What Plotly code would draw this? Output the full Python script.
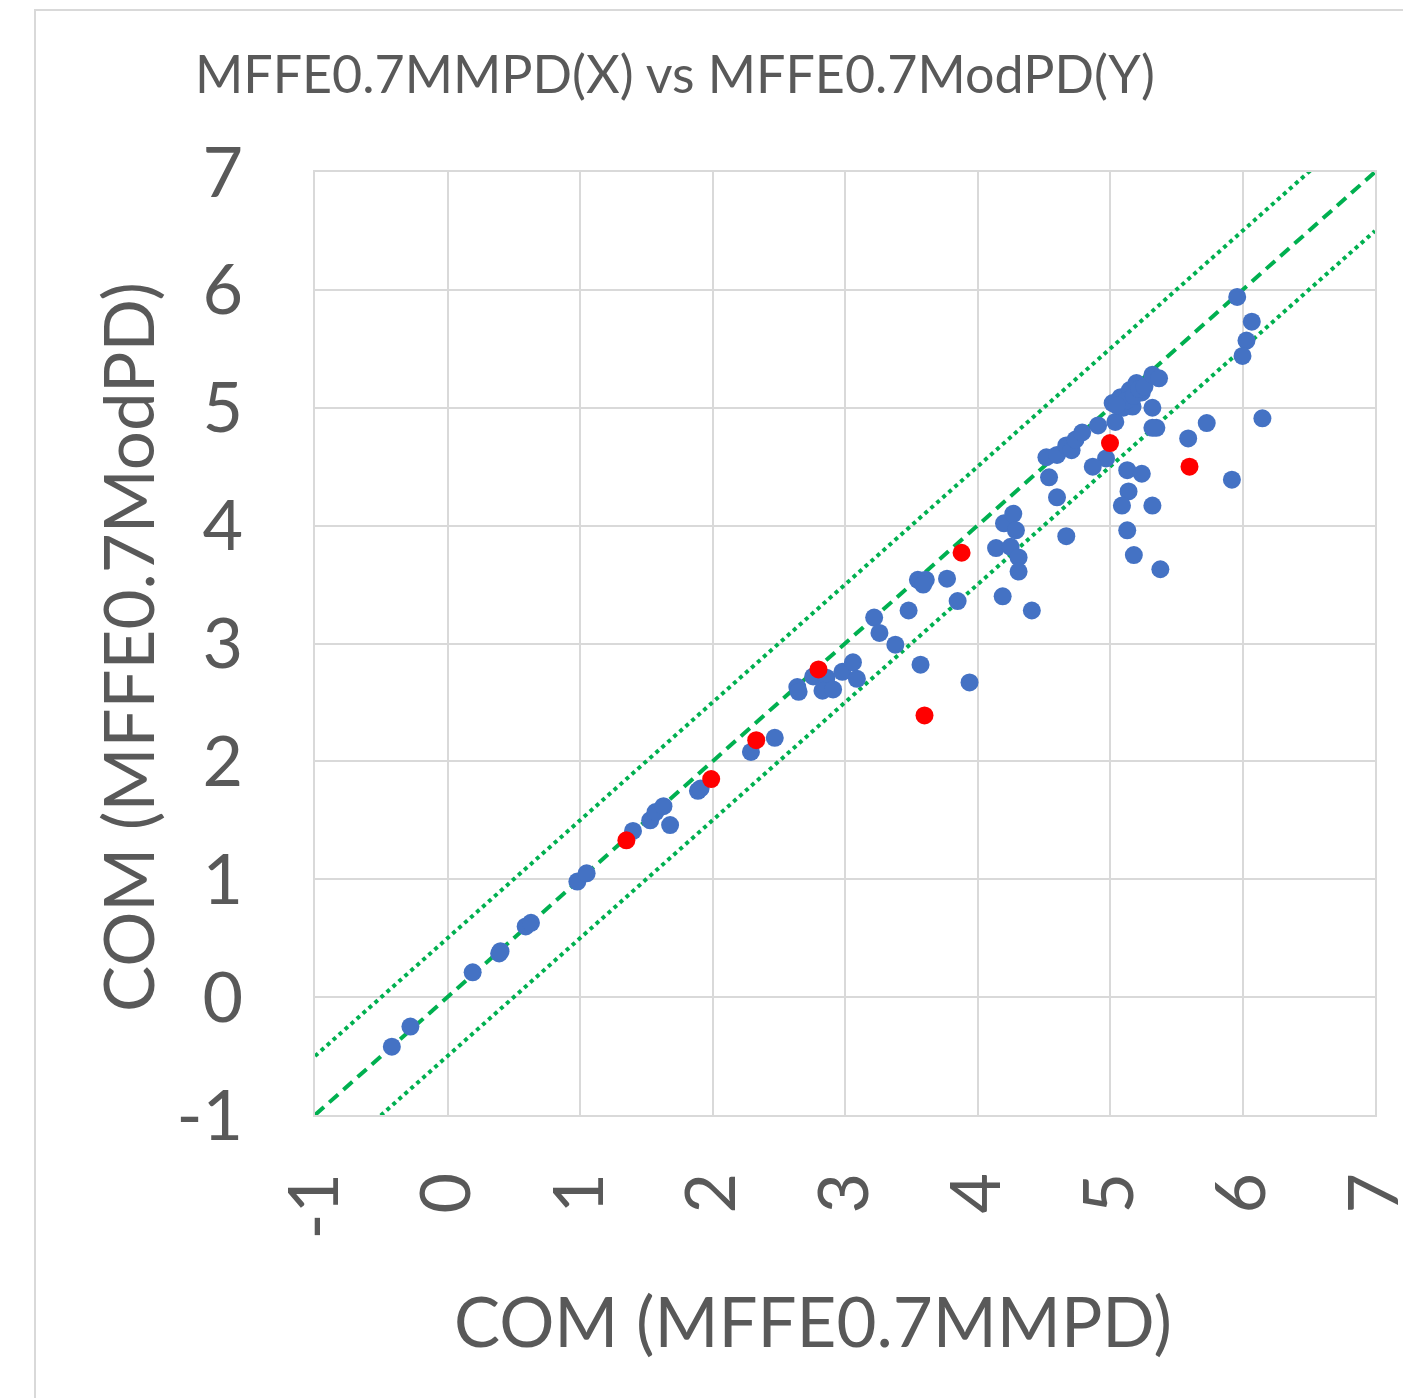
import plotly.graph_objects as go

# ---------------- data ----------------
blue_x = [-0.42, -0.28, 0.19, 0.39, 0.40, 0.59, 0.63, 0.98, 1.05,
          1.40, 1.53, 1.57, 1.63, 1.68, 1.89, 1.91,
          2.29, 2.47,
          2.64, 2.65, 2.76, 2.86, 2.83, 2.91, 2.98, 3.06, 3.09,
          3.22, 3.26, 3.38, 3.48, 3.57,
          3.55, 3.61, 3.59, 3.77, 3.85, 3.94,
          4.14, 4.20, 4.27, 4.29, 4.25, 4.31, 4.31, 4.19, 4.41, 4.67,
          4.54, 4.60, 4.52, 4.60, 4.67, 4.71, 4.74, 4.79, 4.91, 4.97, 4.87,
          5.04,
          5.02, 5.10, 5.17, 5.08, 5.15, 5.20, 5.24, 5.12, 5.18, 5.22, 5.26, 5.05,
          5.32, 5.37, 5.32,
          5.13, 5.24, 5.14, 5.09, 5.32, 5.35, 5.32, 5.13, 5.18, 5.38,
          5.59, 5.73, 5.92, 6.15,
          5.96, 6.07, 6.03, 6.00]
blue_y = [-0.42, -0.25, 0.21, 0.37, 0.39, 0.60, 0.63, 0.98, 1.05,
          1.41, 1.50, 1.57, 1.62, 1.46, 1.75, 1.77,
          2.08, 2.20,
          2.63, 2.59, 2.72, 2.71, 2.60, 2.61, 2.76, 2.84, 2.70,
          3.22, 3.09, 2.99, 3.28, 2.82,
          3.54, 3.54, 3.50, 3.55, 3.36, 2.67,
          3.81, 4.02, 4.10, 3.96, 3.82, 3.73, 3.61, 3.40, 3.28, 3.91,
          4.41, 4.24, 4.58, 4.60, 4.68, 4.64, 4.73, 4.79, 4.85, 4.57, 4.50,
          4.88,
          5.04, 5.00, 5.01, 5.09, 5.15, 5.21, 5.13, 5.06, 5.10, 5.16, 5.18, 5.02,
          5.28, 5.25, 5.00,
          4.47, 4.44, 4.29, 4.17, 4.17, 4.83, 4.83, 3.96, 3.75, 3.63,
          4.74, 4.87, 4.39, 4.91,
          5.94, 5.73, 5.57, 5.44]

red_x = [1.35, 1.99, 2.33, 2.80, 3.60, 3.88, 5.00, 5.60]
red_y = [1.33, 1.85, 2.18, 2.78, 2.39, 3.77, 4.70, 4.50]

line_x = [-1, 7]
band = 0.5

axis_range = [-1, 7]
tick_vals = [-1, 0, 1, 2, 3, 4, 5, 6, 7]
tick_text = [str(v) for v in tick_vals]

title_text = "MFFE0.7MMPD(X) vs MFFE0.7ModPD(Y)"
x_title = "COM (MFFE0.7MMPD)"
y_title = "COM (MFFE0.7ModPD)"

# ---------------- figure ----------------
W, H = 1403, 1398
L, R, T, B = 315, 28, 172, 283
PW, PH = W - L - R, H - T - B

def px_x(px):
    return (px - L) / PW

def px_y(py):
    return (H - B - py) / PH

FONT = "Lato"
TXT = "#595959"
GRID = "#d9d9d9"
GREEN = "#00B050"

fig = go.Figure()

fig.add_trace(go.Scatter(x=line_x, y=[v + band for v in line_x], mode="lines",
                         line=dict(color=GREEN, width=4, dash="dot"), hoverinfo="skip"))
fig.add_trace(go.Scatter(x=line_x, y=[v - band for v in line_x], mode="lines",
                         line=dict(color=GREEN, width=4, dash="dot"), hoverinfo="skip"))
fig.add_trace(go.Scatter(x=line_x, y=line_x, mode="lines",
                         line=dict(color=GREEN, width=4, dash="12px,7px"), hoverinfo="skip"))

fig.add_trace(go.Scatter(x=blue_x, y=blue_y, mode="markers",
                         marker=dict(color="#4472C4", size=18, line=dict(width=0))))
fig.add_trace(go.Scatter(x=red_x, y=red_y, mode="markers",
                         marker=dict(color="#FF0000", size=18, line=dict(width=0))))

axis_common = dict(range=axis_range, tickmode="array", tickvals=tick_vals, ticktext=tick_text,
                   showgrid=True, gridcolor=GRID, gridwidth=2,
                   zeroline=True, zerolinecolor=GRID, zerolinewidth=2,
                   showline=True, linecolor=GRID, linewidth=2, mirror=True,
                   ticks="", ticklabeloverflow="allow",
                   tickfont=dict(family=FONT, size=70, color=TXT))

fig.update_xaxes(**axis_common, tickangle=-90, ticklabelstandoff=28)
fig.update_yaxes(**axis_common, ticklabelstandoff=56)

fig.update_layout(
    width=W, height=H,
    margin=dict(l=L, r=R, t=T, b=B, autoexpand=False),
    paper_bgcolor="white", plot_bgcolor="white",
    showlegend=False,
    shapes=[dict(type="rect", xref="paper", yref="paper",
                 x0=px_x(35), y0=px_y(1500), x1=px_x(1500), y1=px_y(10),
                 line=dict(color=GRID, width=2), fillcolor="rgba(0,0,0,0)", layer="below")],
    annotations=[
        dict(text=title_text, xref="paper", yref="paper", x=px_x(675), y=px_y(73),
             showarrow=False, xanchor="center", yanchor="middle",
             font=dict(family=FONT, size=52, color=TXT)),
        dict(text=x_title, xref="paper", yref="paper", x=px_x(813), y=px_y(1320),
             showarrow=False, xanchor="center", yanchor="middle",
             font=dict(family=FONT, size=69, color=TXT)),
        dict(text=y_title, xref="paper", yref="paper", x=px_x(127), y=px_y(647),
             showarrow=False, xanchor="center", yanchor="middle", textangle=-90,
             font=dict(family=FONT, size=69, color=TXT)),
    ],
)

fig.write_html("out.html")
